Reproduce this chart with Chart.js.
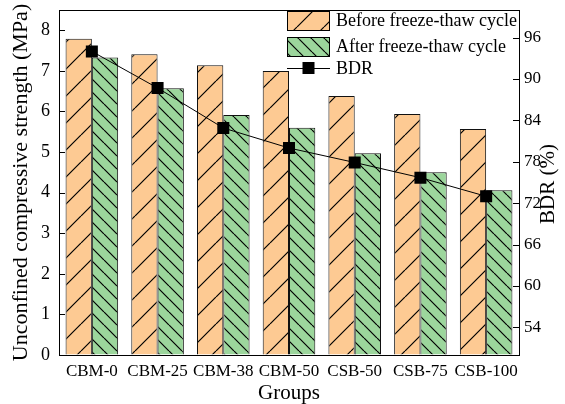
<!DOCTYPE html>
<html>
<head>
<meta charset="utf-8">
<script src="https://cdn.jsdelivr.net/npm/chart.js@4.4.0/dist/chart.umd.min.js"></script>
<style>
  html, body { margin: 0; padding: 0; background: #fff; }
</style>
</head>
<body>
<canvas id="ucsChart" width="565" height="404"></canvas>
<script>
// data
const groups = ['CBM-0', 'CBM-25', 'CBM-38', 'CBM-50', 'CSB-50', 'CSB-75', 'CSB-100'];
const beforeFT = [7.79, 7.41, 7.14, 7.00, 6.38, 5.94, 5.57];
const afterFT = [7.33, 6.57, 5.91, 5.60, 4.97, 4.50, 4.06];
const bdr = [94.0, 88.7, 82.9, 80.0, 77.9, 75.7, 73.0];
const leftTicks = [0, 1, 2, 3, 4, 5, 6, 7, 8];
const rightTicks = [54, 60, 66, 72, 78, 84, 90, 96];

const serif = '"Liberation Serif", "DejaVu Serif", serif';
const canvas = document.getElementById('ucsChart');
const ctx = canvas.getContext('2d');

// hatched fills
function hatch(bg, dir, size) {
    const c = document.createElement('canvas');
    c.width = size; c.height = size;
    const g = c.getContext('2d');
    g.fillStyle = bg;
    g.fillRect(0, 0, size, size);
    g.strokeStyle = '#000';
    g.lineWidth = 1.2;
    g.beginPath();
    for (let k = -1; k <= 1; k++) {
        const o = k * size;
        if (dir === '/') { g.moveTo(o, size); g.lineTo(o + size, 0); }
        else { g.moveTo(o, 0); g.lineTo(o + size, size); }
    }
    g.stroke();
    return ctx.createPattern(c, 'repeat');
}
const orangeFill = hatch('#fdca93', '/', 27);
const greenFill = hatch('#9cd69c', '\\', 13);

// no extra label padding, so the plot box sits where the figure has it
function noPad(s) {
    s.paddingTop = 0; s.paddingBottom = 0;
    s.paddingLeft = 0; s.paddingRight = 0;
}

// ticks point inward, frame on top, right title + legend
const extras = {
    id: 'extras',
    afterDraw(chart) {
        const c = chart.ctx, a = chart.chartArea;
        const y = chart.scales.y, y1 = chart.scales.y1;
        c.save();
        c.strokeStyle = '#000';
        c.lineWidth = 1;
        c.beginPath();
        c.moveTo(a.left, a.top + 0.5); c.lineTo(a.right, a.top + 0.5);
        leftTicks.forEach(v => {
            const p = Math.round(y.getPixelForValue(v)) + 0.5;
            c.moveTo(a.left, p); c.lineTo(a.left + 6, p);
        });
        rightTicks.forEach(v => {
            const p = Math.round(y1.getPixelForValue(v)) + 0.5;
            c.moveTo(a.right, p); c.lineTo(a.right - 6, p);
        });
        c.stroke();

        // right axis title, reading bottom to top
        c.fillStyle = '#000';
        c.font = '21px ' + serif;
        c.textAlign = 'center';
        c.textBaseline = 'middle';
        c.translate(548, 184);
        c.rotate(-Math.PI / 2);
        c.fillText('BDR (%)', 0, 0);
        c.restore();

        // legend
        c.save();
        c.lineWidth = 1;
        c.strokeStyle = '#000';
        const lx = 287, bw = 43, bh = 20;
        c.fillStyle = orangeFill;
        c.fillRect(lx, 11, bw, bh);
        c.strokeRect(lx + 0.5, 11.5, bw - 1, bh - 1);
        c.fillStyle = greenFill;
        c.fillRect(lx, 37, bw, bh);
        c.strokeRect(lx + 0.5, 37.5, bw - 1, bh - 1);
        c.beginPath();
        c.moveTo(lx, 68.5); c.lineTo(lx + bw, 68.5);
        c.stroke();
        c.fillStyle = '#000';
        c.fillRect(lx + bw / 2 - 6, 62, 12, 12);
        c.font = '18px ' + serif;
        c.textAlign = 'left';
        c.textBaseline = 'middle';
        c.fillText('Before freeze-thaw cycle', 336, 21);
        c.fillText('After freeze-thaw cycle', 336, 47);
        c.fillText('BDR', 336, 69);
        c.restore();
    }
};

const axisFont = { family: serif, size: 17 };

new Chart(canvas, {
    data: {
        labels: groups,
        datasets: [
            {
                type: 'line',
                label: 'BDR',
                data: bdr,
                yAxisID: 'y1',
                order: 0,
                borderColor: '#000',
                borderWidth: 1,
                pointStyle: 'rect',
                pointRadius: 8.5,
                pointBackgroundColor: '#000',
                pointBorderColor: '#000',
                pointBorderWidth: 0
            },
            {
                type: 'bar',
                label: 'Before freeze-thaw cycle',
                data: beforeFT,
                yAxisID: 'y',
                order: 1,
                backgroundColor: orangeFill,
                borderColor: '#111',
                borderWidth: 1,
                categoryPercentage: 0.8,
                barPercentage: 1
            },
            {
                type: 'bar',
                label: 'After freeze-thaw cycle',
                data: afterFT,
                yAxisID: 'y',
                order: 1,
                backgroundColor: greenFill,
                borderColor: '#111',
                borderWidth: 1,
                categoryPercentage: 0.8,
                barPercentage: 1
            }
        ]
    },
    options: {
        responsive: false,
        animation: false,
        devicePixelRatio: 1,
        layout: { padding: { top: 10, left: 0, right: 0, bottom: 0 } },
        plugins: { legend: { display: false }, tooltip: { enabled: false } },
        scales: {
            x: {
                offset: true,
                grid: { drawOnChartArea: false, drawTicks: false, color: '#000' },
                border: { color: '#000', width: 1 },
                ticks: { color: '#000', font: axisFont, padding: 6, maxRotation: 0, minRotation: 0, autoSkip: false },
                title: { display: true, text: 'Groups', color: '#000', font: { family: serif, size: 21 }, padding: { top: 0, bottom: -2 } },
                afterFit(s) { s.height = 49; noPad(s); }
            },
            y: {
                position: 'left',
                min: 0,
                max: 8.5,
                afterBuildTicks(s) { s.ticks = leftTicks.map(v => ({ value: v })); },
                grid: { drawOnChartArea: false, drawTicks: false, color: '#000' },
                border: { color: '#000', width: 1 },
                ticks: { color: '#000', font: { family: serif, size: 18 }, padding: 9 },
                title: { display: true, text: 'Unconfined compressive strength (MPa)', color: '#000', font: { family: serif, size: 22 }, padding: { top: 8, bottom: 0 } },
                afterFit(s) { s.width = 59; noPad(s); }
            },
            y1: {
                position: 'right',
                min: 50,
                max: 100,
                afterBuildTicks(s) { s.ticks = rightTicks.map(v => ({ value: v })); },
                grid: { drawOnChartArea: false, drawTicks: false, color: '#000' },
                border: { color: '#000', width: 1 },
                ticks: { color: '#000', font: { family: serif, size: 17 }, padding: 5 },
                afterFit(s) { s.width = 46; noPad(s); }
            }
        }
    },
    plugins: [extras]
});
</script>
</body>
</html>
